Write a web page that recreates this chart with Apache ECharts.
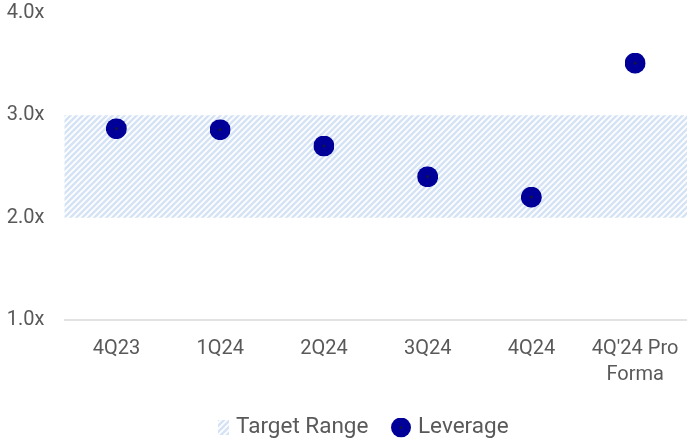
<!DOCTYPE html>
<html>
<head>
<meta charset="utf-8">
<script src="https://cdn.jsdelivr.net/npm/echarts@6/dist/echarts.min.js"></script>
<style>
html,body{margin:0;padding:0;background:#fff;}
#chart{width:687px;height:438px;}
</style>
</head>
<body>
<div id="chart"></div>
<script>
// Data
const categories = ['4Q23', '1Q24', '2Q24', '3Q24', '4Q24', "4Q'24 Pro\nForma"];
const leverage = [2.87, 2.86, 2.70, 2.40, 2.20, 3.51];
const targetRange = [2.0, 3.0]; // low, high
const yTicks = [1, 2, 3, 4];

// hatch pattern
function makeHatch() {
  const c = document.createElement('canvas');
  const s = 6;
  c.width = s; c.height = s;
  const ctx = c.getContext('2d');
  ctx.fillStyle = '#ffffff';
  ctx.fillRect(0, 0, s, s);
  ctx.strokeStyle = '#d4e3f5';
  ctx.lineWidth = 2.5;
  ctx.beginPath();
  ctx.moveTo(-1, s + 1); ctx.lineTo(s + 1, -1);
  ctx.moveTo(-1, 1); ctx.lineTo(1, -1);
  ctx.moveTo(s - 1, s + 1); ctx.lineTo(s + 1, s - 1);
  ctx.stroke();
  return c;
}
const hatch = { image: makeHatch(), repeat: 'repeat' };

const svg = "<svg xmlns='http://www.w3.org/2000/svg' width='42' height='42'><circle cx='21' cy='21' r='21' fill='#000099'/><circle cx='21' cy='21' r='2.8' fill='#16163a'/></svg>";
const dotIcon = 'image://data:image/svg+xml;charset=utf-8,' + encodeURIComponent(svg);

const textColor = '#595959';
const font = 'Roboto';
const legendText = { color: textColor, fontSize: 22.5, fontFamily: font, padding: [0, 0, 0, 2] };

const chart = echarts.init(document.getElementById('chart'), null, { renderer: 'canvas' });
chart.setOption({
  animation: false,
  grid: { left: 64.5, width: 626, top: 13, bottom: 118 },
  xAxis: {
    type: 'category',
    data: categories,
    axisLine: { show: true, lineStyle: { color: '#d9d9d9', width: 1.5 } },
    axisTick: { show: false },
    axisLabel: { color: textColor, fontSize: 20, fontFamily: font, margin: 16, lineHeight: 26, interval: 0 }
  },
  yAxis: {
    type: 'value',
    min: yTicks[0],
    max: yTicks[yTicks.length - 1],
    interval: 1,
    axisLine: { show: false },
    axisTick: { show: false },
    splitLine: { show: false },
    axisLabel: {
      color: textColor, fontSize: 20, fontFamily: font, margin: 20,
      formatter: v => v.toFixed(1) + 'x'
    }
  },
  legend: [
    {
      top: 411, left: 213,
      itemWidth: 11, itemHeight: 15,
      textStyle: legendText,
      data: [{ name: 'Target Range', icon: 'rect', itemStyle: { color: hatch } }]
    },
    {
      top: 411, left: 386,
      itemWidth: 20, itemHeight: 20,
      textStyle: legendText,
      data: [{ name: 'Leverage', icon: dotIcon }]
    }
  ],
  series: [
    {
      name: 'Target Range',
      type: 'bar',
      data: [],
      itemStyle: { color: hatch },
      markArea: {
        silent: true,
        itemStyle: { color: hatch },
        data: [[{ yAxis: targetRange[0] }, { yAxis: targetRange[1] }]]
      }
    },
    {
      name: 'Leverage',
      type: 'scatter',
      data: leverage,
      symbol: dotIcon,
      symbolSize: 21,
      itemStyle: { opacity: 1 },
      z: 5
    }
  ]
});
</script>
</body>
</html>
